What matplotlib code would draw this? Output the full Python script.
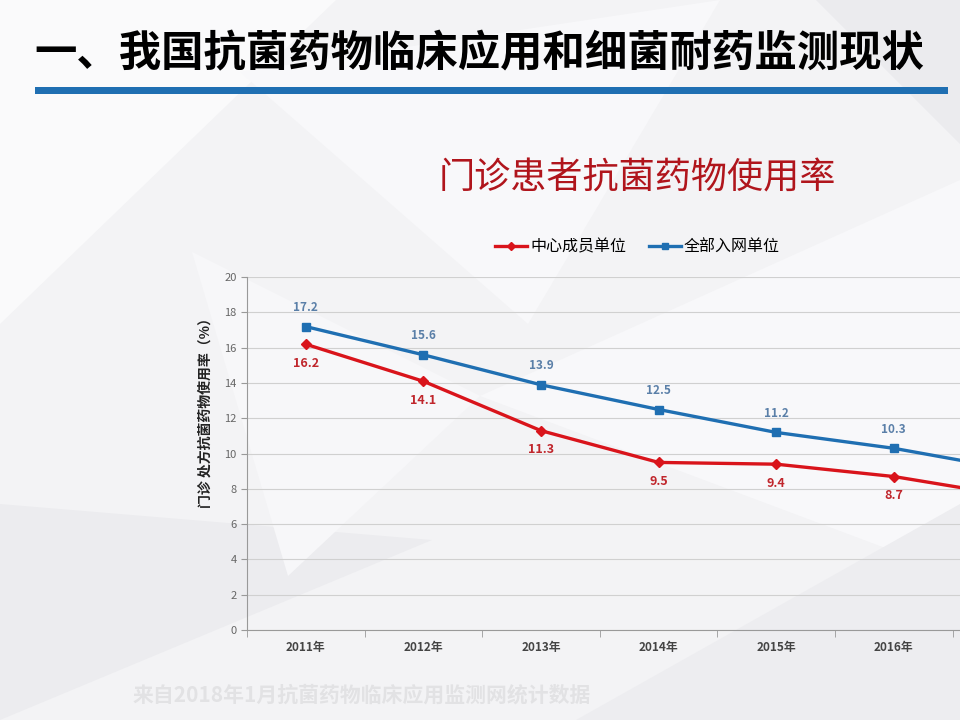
import matplotlib
matplotlib.use('Agg')
from matplotlib import pyplot as plt
from matplotlib.patches import Polygon, Rectangle
import numpy as np

plt.rcParams['font.family'] = ['Noto Sans CJK SC', 'DejaVu Sans']

# data
years = ['2011年', '2012年', '2013年', '2014年', '2015年', '2016年', '2017年']
center_units = [16.2, 14.1, 11.3, 9.5, 9.4, 8.7, 7.6]      # 中心成员单位
all_units = [17.2, 15.6, 13.9, 12.5, 11.2, 10.3, 9.1]      # 全部入网单位
shown_labels = 6  # 2017 falls outside the slide

red = '#d9141b'
blue = '#1f6fb2'

fig = plt.figure(figsize=(9.6, 7.2), dpi=100)
fig.patch.set_facecolor('#f3f3f5')

# faint polygon background, in its own axes behind everything
bgax = fig.add_axes([0, 0, 1, 1], zorder=-10)
bgax.set_xlim(0, 1)
bgax.set_ylim(0, 1)
bgax.axis('off')
bg = [
    ([(0, 1), (0.35, 1), (0.0, 0.55)], '#fafafb'),
    ([(0.25, 0.9), (0.75, 1), (0.55, 0.55)], '#f8f8fa'),
    ([(0.5, 0.45), (1, 0.75), (1, 0.2)], '#f8f8fa'),
    ([(0, 0.3), (0.45, 0.25), (0, 0)], '#ececef'),
    ([(0.2, 0.65), (0.5, 0.45), (0.3, 0.2)], '#f7f7f9'),
    ([(0.6, 0), (1, 0.3), (1, 0)], '#ededf0'),
    ([(0.85, 1), (1, 1), (1, 0.8)], '#ebebee'),
]
for pts, c in bg:
    bgax.add_patch(Polygon(pts, closed=True, facecolor=c, edgecolor='none'))

# slide title and bar
bgax.text(0.036, 0.925, '一、我国抗菌药物临床应用和细菌耐药监测现状', fontsize=30.5,
          fontweight='bold', color='black', va='center', ha='left')
bgax.add_patch(Rectangle((0.036, 0.869), 0.952, 0.01, facecolor=blue, edgecolor='none'))

bgax.text(0.664, 0.752, '门诊患者抗菌药物使用率', fontsize=26, color='#b0151c',
          ha='center', va='center')

bgax.text(0.138, 0.02, '来自2018年1月抗菌药物临床应用监测网统计数据', fontsize=15,
          color='#e2e2e4', ha='left', va='bottom', fontweight='bold')

# axes extends past the right edge like the slide
ax = fig.add_axes([0.2573, 0.125, 0.8575, 0.49])
ax.patch.set_alpha(0)
x = np.arange(len(years))
ax.plot(x, all_units, color=blue, lw=2.4, marker='s', ms=5.5, label='全部入网单位', zorder=3)
ax.plot(x, center_units, color=red, lw=2.4, marker='D', ms=5, label='中心成员单位', zorder=3)

for i in range(shown_labels):
    ax.annotate(f'{all_units[i]:.1f}', (x[i], all_units[i]), xytext=(0, 9),
                textcoords='offset points', ha='center', va='bottom',
                fontsize=8.5, color='#5a7fa8', fontweight='bold')
    ax.annotate(f'{center_units[i]:.1f}', (x[i], center_units[i]), xytext=(0, -9),
                textcoords='offset points', ha='center', va='top',
                fontsize=9, color='#c0262c', fontweight='bold')

ax.set_xlim(-0.5, len(years) - 0.5)
ax.set_ylim(0, 20)
ax.set_yticks(range(0, 21, 2))
ax.set_xticks(x[:shown_labels])
ax.set_xticklabels(years[:shown_labels], fontsize=8.5, fontweight='bold', color='#444444')
ax.set_xticks(np.arange(-0.5, len(years), 1), minor=True)
ax.tick_params(axis='x', which='major', length=0, pad=8)
ax.tick_params(axis='x', which='minor', length=5, color='#999999', direction='out')
ax.tick_params(axis='y', labelsize=8, colors='#666666', length=4, direction='out')
ax.tick_params(axis='y', color='#999999')
ax.grid(axis='y', color='#d0d0d0', lw=0.8)
ax.set_axisbelow(True)
for s in ['top', 'right']:
    ax.spines[s].set_visible(False)
for s in ['left', 'bottom']:
    ax.spines[s].set_color('#999999')
ax.set_ylabel('门诊 处方抗菌药物使用率（%）', fontsize=10, fontweight='bold',
              color='#222222')
ax.yaxis.set_label_coords(-0.042, 0.625)

h, l = ax.get_legend_handles_labels()
fig.legend(h[::-1], l[::-1], loc='center', bbox_to_anchor=(0.664, 0.657), ncol=2,
           frameon=False, fontsize=11.5, handlelength=2.0, handletextpad=0.2,
           columnspacing=1.4, markerscale=0.8)

plt.savefig('out.png', dpi=100, facecolor=fig.get_facecolor())
